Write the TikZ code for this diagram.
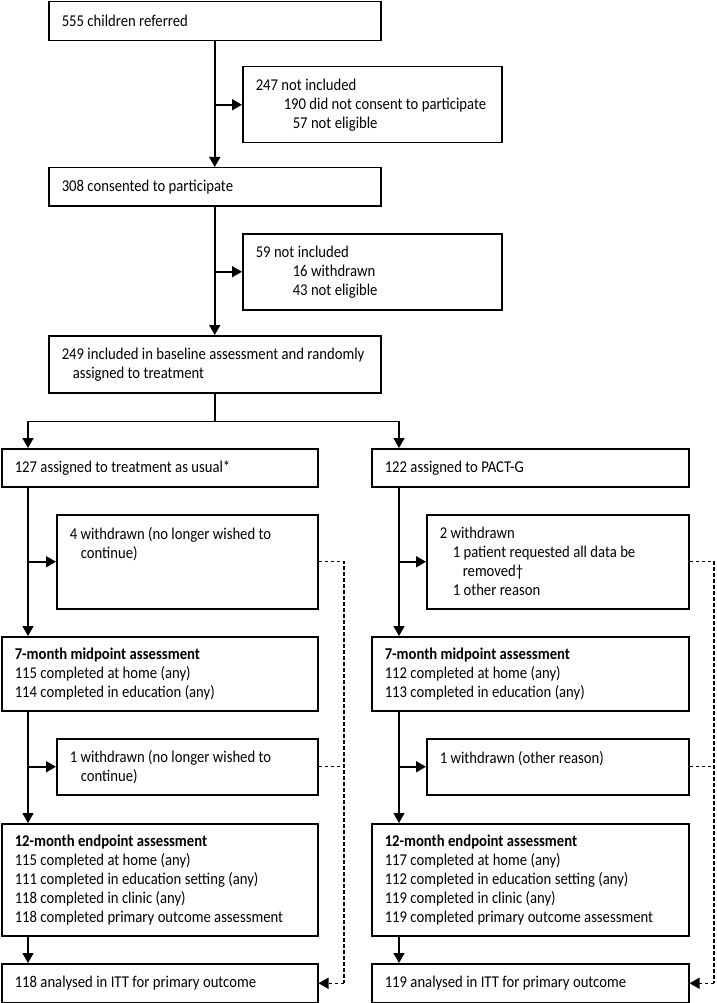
\documentclass[tikz,border=0pt]{standalone}
\usepackage{fontspec}
\setmainfont{Carlito}[FakeStretch=0.89]
\usepackage{tikz}
\usetikzlibrary{arrows.meta}
\newcommand{\boxfont}{\fontsize{16.5}{19}\selectfont\spaceskip=3.4pt plus 1pt minus 0.5pt\relax\hyphenpenalty=10000\relax}
\tikzstyle{box}   = [draw, line width=1.5pt, anchor=north west, inner xsep=13pt, inner ysep=0pt, align=flush left, font=\boxfont]
\tikzstyle{line}  = [line width=1.6pt]
\tikzstyle{arrow} = [line width=1.6pt, -{Triangle[length=10pt,width=11pt]}]
\tikzstyle{lost}  = [line width=1.4pt, dash pattern=on 3.5pt off 2.5pt]

\begin{document}
\begin{tikzpicture}[x=1pt, y=-1pt]
  \useasboundingbox (0,0) rectangle (716,1003);

  %screening
  \node[box, minimum width=332pt, text width=306pt, minimum height=39pt] (referred) at (48,1) {555 children referred};
  \node[box, minimum width=259pt, text width=233pt, minimum height=76pt] (notincl1) at (242,66)
    {247 not included\\\hspace*{28pt}190 did not consent to participate\\\hspace*{37pt}57 not eligible};
  \node[box, minimum width=332pt, text width=306pt, minimum height=38pt] (consented) at (48,167) {308 consented to participate};
  \node[box, minimum width=259pt, text width=233pt, minimum height=76pt] (notincl2) at (242,233)
    {59 not included\\\hspace*{37pt}16 withdrawn\\\hspace*{37pt}43 not eligible};
  \node[box, minimum width=332pt, text width=306pt, minimum height=57pt] (included) at (48,335)
    {249 included in baseline assessment and randomly\\\hspace*{11pt}assigned to treatment};

  %treatment as usual
  \coordinate (trunkL) at (28,0);
  \coordinate (lostL) at (344,0);
  \node[box, minimum width=316pt, text width=290pt, minimum height=38pt] (usual) at (1,448) {127 assigned to treatment as usual*};
  \node[box, minimum width=261pt, text width=235pt, minimum height=94pt] (wdL1) at (56,514)
    {4 withdrawn (no longer wished to\\\hspace*{11pt}continue)\\~\\~};
  \node[box, minimum width=316pt, text width=290pt, minimum height=74pt] (midL) at (1,636)
    {\textbf{7-month midpoint assessment}\\115 completed at home (any)\\114 completed in education (any)};
  \node[box, minimum width=261pt, text width=235pt, minimum height=56pt] (wdL2) at (56,738)
    {1 withdrawn (no longer wished to\\\hspace*{11pt}continue)};
  \node[box, minimum width=316pt, text width=290pt, minimum height=112pt] (endL) at (1,823)
    {\textbf{12-month endpoint assessment}\\115 completed at home (any)\\111 completed in education setting (any)\\118 completed in clinic (any)\\118 completed primary outcome assessment};
  \node[box, minimum width=316pt, text width=290pt, minimum height=39pt] (ittL) at (1,963) {118 analysed in ITT for primary outcome};

  %PACT-G
  \coordinate (trunkR) at (399,0);
  \coordinate (lostR) at (714,0);
  \node[box, minimum width=317pt, text width=291pt, minimum height=38pt] (pactg) at (371,448) {122 assigned to PACT-G};
  \node[box, minimum width=262pt, text width=236pt, minimum height=94pt] (wdR1) at (426,514)
    {2 withdrawn\\\hspace*{13pt}1 patient requested all data be\\\hspace*{23pt}removed\textdagger\\\hspace*{13pt}1 other reason};
  \node[box, minimum width=317pt, text width=291pt, minimum height=74pt] (midR) at (371,636)
    {\textbf{7-month midpoint assessment}\\112 completed at home (any)\\113 completed in education (any)};
  \node[box, minimum width=262pt, text width=236pt, minimum height=56pt] (wdR2) at (426,738)
    {1 withdrawn (other reason)\\~};
  \node[box, minimum width=317pt, text width=291pt, minimum height=112pt] (endR) at (371,823)
    {\textbf{12-month endpoint assessment}\\117 completed at home (any)\\112 completed in education setting (any)\\119 completed in clinic (any)\\119 completed primary outcome assessment};
  \node[box, minimum width=317pt, text width=291pt, minimum height=39pt] (ittR) at (371,963) {119 analysed in ITT for primary outcome};

  %main flow
  \draw[arrow] (referred) -- (consented);
  \draw[arrow] (referred.south |- notincl1.west) -- (notincl1.west);
  \draw[arrow] (consented) -- (included);
  \draw[arrow] (consented.south |- notincl2.west) -- (notincl2.west);
  \draw[line] (included.south) -- ++(0,28) coordinate (split);
  \draw[arrow] (split) -| (usual.north -| trunkL);
  \draw[arrow] (split) -| (pactg.north -| trunkR);

  %left arm
  \draw[arrow] (usual.south -| trunkL) -- (midL.north -| trunkL);
  \draw[arrow] (wdL1.west -| trunkL) -- (wdL1.west);
  \draw[arrow] (midL.south -| trunkL) -- (endL.north -| trunkL);
  \draw[arrow] (wdL2.west -| trunkL) -- (wdL2.west);
  \draw[arrow] (endL.south -| trunkL) -- (ittL.north -| trunkL);

  %right arm
  \draw[arrow] (pactg.south -| trunkR) -- (midR.north -| trunkR);
  \draw[arrow] (wdR1.west -| trunkR) -- (wdR1.west);
  \draw[arrow] (midR.south -| trunkR) -- (endR.north -| trunkR);
  \draw[arrow] (wdR2.west -| trunkR) -- (wdR2.west);
  \draw[arrow] (endR.south -| trunkR) -- (ittR.north -| trunkR);

  %withdrawals back to ITT
  \draw[lost] (wdL1.east) -- (wdL1.east -| lostL) -- (ittL.east -| lostL);
  \draw[lost, -{Triangle[length=10pt,width=11pt]}] (ittL.east -| lostL) -- (ittL.east);
  \draw[lost] (wdL2.east) -- (wdL2.east -| lostL);
  \draw[lost] (wdR1.east) -- (wdR1.east -| lostR) -- (ittR.east -| lostR);
  \draw[lost, -{Triangle[length=10pt,width=11pt]}] (ittR.east -| lostR) -- (ittR.east);
  \draw[lost] (wdR2.east) -- (wdR2.east -| lostR);
\end{tikzpicture}
\end{document}
